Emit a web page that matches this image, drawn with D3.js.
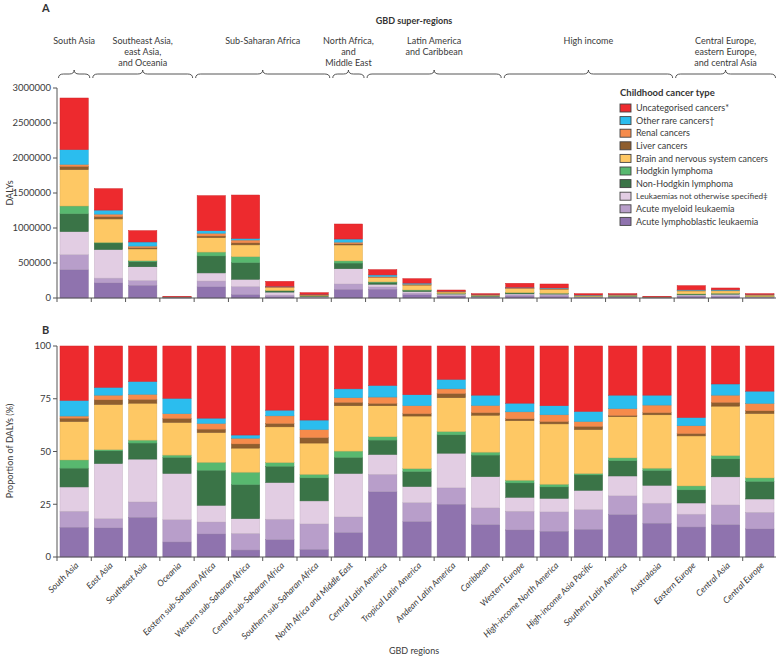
<!DOCTYPE html>
<html>
<head>
<meta charset="utf-8">
<script src="https://cdn.jsdelivr.net/npm/d3@7"></script>
<style>
  html, body { margin: 0; padding: 0; background: #fff; }
  svg { display: block; font-family: Lato, "Open Sans", sans-serif; }
</style>
</head>
<body>
<svg id="chart" width="776" height="658"></svg>
<script>
// ---------------- DATA ----------------
const regions = ["South Asia","East Asia","Southeast Asia","Oceania",
  "Eastern sub-Saharan Africa","Western sub-Saharan Africa","Central sub-Saharan Africa","Southern sub-Saharan Africa",
  "North Africa and Middle East","Central Latin America","Tropical Latin America","Andean Latin America","Caribbean",
  "Western Europe","High-income North America","High-income Asia Pacific","Southern Latin America","Australasia",
  "Eastern Europe","Central Asia","Central Europe"];

const superRegionNames = [["South Asia"],["Southeast Asia,","east Asia,","and Oceania"],["Sub-Saharan Africa"],
  ["North Africa,","and","Middle East"],["Latin America","and Caribbean"],["High income"],
  ["Central Europe,","eastern Europe,","and central Asia"]];
const superRegionSizes = [1, 3, 4, 1, 4, 5, 3];

const cancerTypes = ["Acute lymphoblastic leukaemia","Acute myeloid leukaemia","Leukaemias not otherwise specified\u2021",
  "Non-Hodgkin lymphoma","Hodgkin lymphoma","Brain and nervous system cancers","Liver cancers","Renal cancers",
  "Other rare cancers\u2020","Uncategorised cancers*"];
const typeColors = ["#8f73ae","#b89eca","#e2cde3","#3a7447","#58b86f","#fec864","#8f5e2e","#f68b4b","#2bbdee","#ed2a2e"];

// total DALYs per region (panel A)
const totalDALYs = [2857000,1562000,962000,19000,1462000,1471000,238000,76000,1057000,405000,276000,114000,62000,
  210000,200000,62000,62000,19000,176000,143000,62000];

// share of DALYs (%) per cancer type per region (panel B)
const pctALL    = [14.1,13.8,18.8,7.1,10.9,3.3,8.2,3.6,11.6,30.9,16.8,25.0,15.3,12.8,12.2,13.1,20.1,16.0,14.2,15.3,13.3];
const pctAML    = [7.6,4.4,7.3,10.6,5.7,7.9,9.7,12.1,7.4,8.3,9.0,7.8,8.0,8.9,9.2,9.4,8.9,9.5,6.1,9.4,7.9];
const pctLNOS   = [11.5,26.1,20.3,21.9,7.9,7.0,17.4,10.9,20.6,9.4,7.6,16.4,14.8,6.6,6.4,9.1,9.4,8.5,5.3,13.3,6.3];
const pctNHL    = [8.9,6.0,7.6,7.6,16.6,16.1,7.7,10.9,7.6,6.8,7.1,8.7,10.2,6.8,5.4,7.3,7.2,7.0,6.2,8.5,8.3];
const pctHL     = [3.9,0.6,1.4,1.1,3.8,5.9,1.8,1.7,3.0,1.6,1.4,1.6,1.4,1.3,1.3,0.7,1.4,1.1,1.9,1.6,1.7];
const pctBrain  = [18.2,21.4,17.5,15.5,14.1,11.4,16.9,14.8,21.5,14.7,24.9,16.0,17.5,28.2,28.6,20.8,19.5,25.3,23.7,23.4,30.5];
const pctLiver  = [1.6,2.2,1.8,1.9,1.6,2.0,1.6,2.6,1.6,1.1,1.1,2.0,1.2,0.9,1.1,1.5,0.6,1.0,1.1,1.8,1.3];
const pctRenal  = [1.0,2.2,2.4,2.2,2.7,2.7,3.6,3.8,2.2,3.0,3.8,2.2,3.4,3.3,3.2,2.3,3.2,3.6,3.7,3.4,3.5];
const pctOther  = [7.4,3.7,6.1,7.3,2.5,1.5,2.7,4.5,4.2,5.5,5.2,4.5,4.9,4.1,4.3,4.8,6.4,4.7,3.9,5.3,5.8];
const pctUncat  = [25.8,19.6,16.8,24.8,34.2,42.2,30.4,35.1,20.3,18.7,23.1,15.8,23.3,27.1,28.3,31.0,23.3,23.3,33.9,18.0,21.4];
const pctSeries = [pctALL,pctAML,pctLNOS,pctNHL,pctHL,pctBrain,pctLiver,pctRenal,pctOther,pctUncat];

const yTicksA = [0,500000,1000000,1500000,2000000,2500000,3000000];
const yTicksB = [0,25,50,75,100];

// ---------------- BUILD TABLES ----------------
const keys = cancerTypes.map((_, i) => "k" + i);
const rowsB = regions.map((r, j) => {
  const o = { region: r };
  pctSeries.forEach((s, i) => { o[keys[i]] = s[j]; });
  return o;
});
const rowsA = regions.map((r, j) => {
  const sum = d3.sum(pctSeries, s => s[j]);
  const o = { region: r };
  pctSeries.forEach((s, i) => { o[keys[i]] = totalDALYs[j] * s[j] / sum; });
  return o;
});

// ---------------- LAYOUT ----------------
const svg = d3.select("#chart");
const axisColor = "#555";
const textColor = "#3a3a3a";
const fs = 9;
const left = 57, right = 777;

const x = d3.scaleBand().domain(regions).range([left, right]).paddingInner(0.175).paddingOuter(0.0875);
const step = x.step();
const boundaries = d3.range(regions.length + 1).map(i => left + i * step);

const yA = d3.scaleLinear().domain([0, 3000000]).range([298, 88]);
const yB = d3.scaleLinear().domain([0, 100]).range([557, 346]);

function drawBars(g, rows, y, offset) {
  const stack = d3.stack().keys(keys);
  if (offset) stack.offset(offset);
  const series = stack(rows);
  g.selectAll("g.layer").data(series).join("g").attr("class", "layer")
    .attr("fill", (d, i) => typeColors[i])
    .attr("stroke", (d, i) => d3.color(typeColors[i]).darker(0.35))
    .attr("stroke-width", 0.5)
    .selectAll("rect").data(d => d).join("rect")
      .attr("x", d => x(d.data.region))
      .attr("width", x.bandwidth())
      .attr("y", d => y(d[1]))
      .attr("height", d => Math.max(0, y(d[0]) - y(d[1])));
}

function drawAxes(g, y, ticks, fmt, y0, y1) {
  g.append("line").attr("x1", left).attr("x2", left).attr("y1", y(y1)).attr("y2", y(y0))
    .attr("stroke", axisColor).attr("stroke-width", 1);
  g.selectAll("line.yt").data(ticks).join("line").attr("class", "yt")
    .attr("x1", left - 4).attr("x2", left).attr("y1", d => y(d)).attr("y2", d => y(d))
    .attr("stroke", axisColor);
  g.selectAll("text.yl").data(ticks).join("text").attr("class", "yl")
    .attr("x", left - 6).attr("y", d => y(d)).attr("dy", "0.35em")
    .attr("text-anchor", "end").attr("font-size", fs + 0.5).attr("fill", textColor)
    .text(fmt);
  g.append("line").attr("x1", left).attr("x2", right).attr("y1", y(y0)).attr("y2", y(y0))
    .attr("stroke", axisColor).attr("stroke-width", 1);
  g.selectAll("line.xt").data(boundaries).join("line").attr("class", "xt")
    .attr("x1", d => d).attr("x2", d => d).attr("y1", y(y0)).attr("y2", y(y0) + 4)
    .attr("stroke", axisColor);
}

// Panel A
const gA = svg.append("g");
drawBars(gA, rowsA, yA, null);
drawAxes(gA, yA, yTicksA, d3.format("d"), 0, 3000000);

// Panel B
const gB = svg.append("g");
drawBars(gB, rowsB, d => yB(d * 100), d3.stackOffsetExpand);
drawAxes(gB, yB, yTicksB, d3.format("d"), 0, 100);

// Panel letters & axis titles
svg.append("text").attr("x", 42).attr("y", 12).attr("font-size", 11).attr("font-weight", "bold").attr("fill", "#333").text("A");
svg.append("text").attr("x", 42).attr("y", 334).attr("font-size", 11).attr("font-weight", "bold").attr("fill", "#333").text("B");
svg.append("text").attr("transform", "translate(13,193) rotate(-90)").attr("text-anchor", "middle")
  .attr("font-size", fs).attr("fill", textColor).text("DALYs");
svg.append("text").attr("transform", "translate(13,451) rotate(-90)").attr("text-anchor", "middle")
  .attr("font-size", fs).attr("fill", textColor).text("Proportion of DALYs (%)");

// X labels
svg.append("g").selectAll("text").data(regions).join("text")
  .attr("transform", d => `translate(${x(d) + x.bandwidth() / 2 + 5},${566}) rotate(-45)`)
  .attr("text-anchor", "end").attr("font-size", 8.8).attr("font-style", "italic").attr("fill", textColor)
  .text(d => d);
svg.append("text").attr("x", 414).attr("y", 654).attr("text-anchor", "middle")
  .attr("font-size", fs).attr("fill", textColor).text("GBD regions");

// Super-region header
svg.append("text").attr("x", 414).attr("y", 24).attr("text-anchor", "middle")
  .attr("font-size", fs).attr("font-weight", "bold").attr("fill", "#333").text("GBD super-regions");
let startIdx = 0;
const braceTop = 70, braceMid = 74, braceBot = 78;
superRegionSizes.forEach((n, k) => {
  const x0 = boundaries[startIdx] + 1.5, x1 = boundaries[startIdx + n] - 1.5;
  const xc = (x0 + x1) / 2, r = 5;
  const p = `M${x0},${braceBot} Q${x0},${braceMid} ${x0 + r},${braceMid} L${xc - r},${braceMid} Q${xc},${braceMid} ${xc},${braceTop} Q${xc},${braceMid} ${xc + r},${braceMid} L${x1 - r},${braceMid} Q${x1},${braceMid} ${x1},${braceBot}`;
  svg.append("path").attr("d", p).attr("fill", "none").attr("stroke", "#444").attr("stroke-width", 0.9);
  const t = svg.append("text").attr("x", xc).attr("y", 44).attr("text-anchor", "middle")
    .attr("font-size", fs).attr("fill", textColor);
  superRegionNames[k].forEach((line, li) => {
    t.append("tspan").attr("x", xc).attr("dy", li === 0 ? 0 : 11).text(line);
  });
  startIdx += n;
});

// Legend
const lg = svg.append("g").attr("transform", "translate(620,0)");
lg.append("text").attr("x", 0).attr("y", 96).attr("font-size", fs + 0.5).attr("font-weight", "bold").attr("fill", "#333")
  .text("Childhood cancer type");
const legendOrder = d3.range(cancerTypes.length).reverse();
legendOrder.forEach((ti, k) => {
  const yy = 108 + k * 12.6;
  lg.append("rect").attr("x", 0).attr("y", yy - 4).attr("width", 11).attr("height", 8)
    .attr("fill", typeColors[ti]).attr("stroke", "#444").attr("stroke-width", 0.9);
  const t = lg.append("text").attr("x", 16).attr("y", yy).attr("dy", "0.35em").attr("font-size", 9)
    .attr("fill", textColor).text(cancerTypes[ti]);
  const maxW = 132;
  const w = t.node().getComputedTextLength();
  if (w > maxW) t.attr("font-size", 9 * maxW / w);
});
</script>
</body>
</html>
